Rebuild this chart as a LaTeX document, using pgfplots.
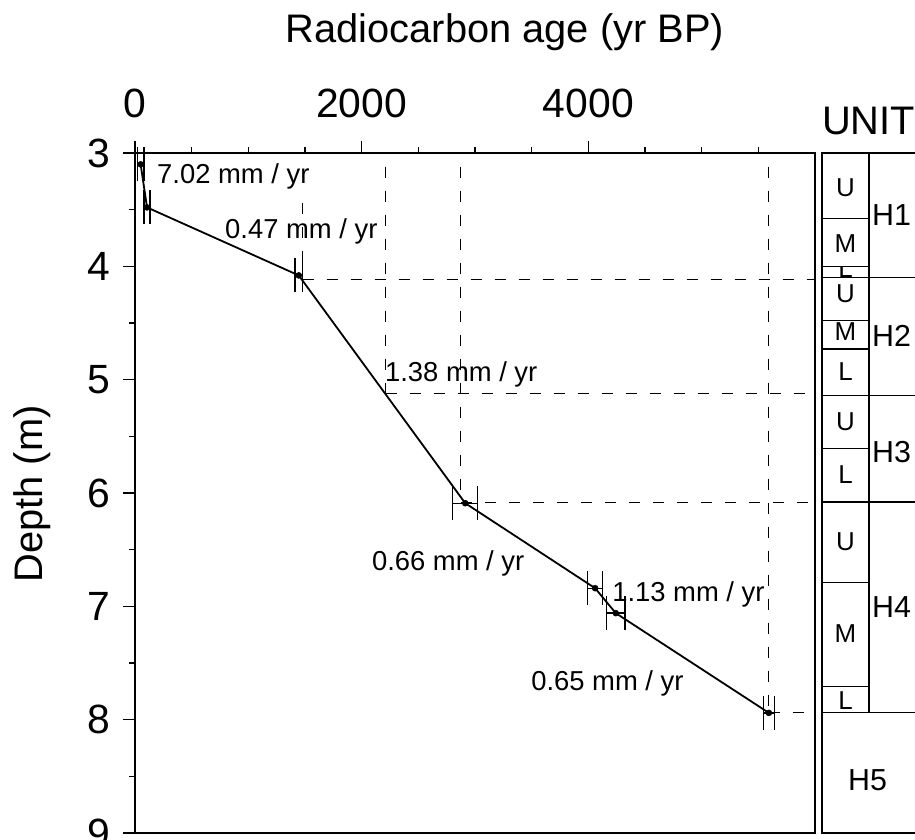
\documentclass[border=0pt]{standalone}
\usepackage{pgfplots}
\pgfplotsset{compat=1.18}
\usepackage{fontspec}
\setmainfont{Liberation Sans}
\begin{document}
\begin{tikzpicture}
\begin{axis}[
  at={(135bp,7bp)}, anchor=south west,
  scale only axis, width=680bp, height=680bp,
  xmin=0, xmax=6000, ymin=3, ymax=9, y dir=reverse,
  axis line style={line width=2bp},
  xtick pos=upper, xticklabel pos=upper, ytick pos=left,
  tick align=outside,
  major tick length=12bp, minor tick length=6bp,
  every tick/.style={line width=1.6bp, black},
  xtick={0,2000,4000}, minor xtick={500,1000,1500,2500,3000,3500,4500,5000,5500},
  ytick={3,4,5,6,7,8,9}, minor ytick={3.5,4.5,5.5,6.5,7.5,8.5},
  ticklabel style={font=\fontsize{41}{44}\selectfont},
  /pgf/number format/assume math mode=true,
  scaled x ticks=false,
  xticklabel style={/pgf/number format/1000 sep={}, yshift=20bp},
  yticklabel style={xshift=-9bp},
  clip=false,
]
% dashed guide lines
\draw[black, line width=1.1bp, dash pattern=on 11bp off 13bp] (axis cs:1480,3.44) -- (axis cs:1480,4.12);
\draw[black, line width=1.1bp, dash pattern=on 11bp off 13bp] (axis cs:2212,3.12) -- (axis cs:2212,5.12);
\draw[black, line width=1.1bp, dash pattern=on 11bp off 13bp] (axis cs:2876,3.12) -- (axis cs:2876,6.08);
\draw[black, line width=1.1bp, dash pattern=on 11bp off 13bp] (axis cs:5593,3.12) -- (axis cs:5593,7.94);
\draw[black, line width=1.1bp, dash pattern=on 11bp off 13bp] (axis cs:1480,4.12) -- (axis cs:6000,4.12);
\draw[black, line width=1.1bp, dash pattern=on 11bp off 13bp] (axis cs:2212,5.12) -- (axis cs:6000,5.12);
\draw[black, line width=1.1bp, dash pattern=on 11bp off 13bp] (axis cs:2876,6.08) -- (axis cs:6000,6.08);
\draw[black, line width=1.1bp, dash pattern=on 11bp off 13bp] (axis cs:5593,7.94) -- (axis cs:6000,7.94);
\addplot[black, line width=1.8bp, mark=*, mark size=3bp, mark options={fill=black, line width=0.5bp},
  error bars/.cd, x dir=both, x explicit,
  error bar style={line width=1.4bp, black},
  error mark=|,
  error mark options={mark size=17bp, line width=1.4bp, black}]
coordinates {
 (50,3.10) +- (30,0)
 (106,3.48) +- (27,0)
 (1445,4.08) +- (35,0)
 (2914,6.09) +- (110,0)
 (4060,6.84) +- (65,0)
 (4242,7.06) +- (80,0)
 (5593,7.94) +- (50,0)
};
\begin{scope}[every node/.style={anchor=base west, inner sep=0pt, font=\fontsize{27.5}{30}\selectfont}]
\node at (axis cs:194,3.265) {7.02 mm / yr};
\node at (axis cs:794,3.75) {0.47 mm / yr};
\node at (axis cs:2205,5.02) {1.38 mm / yr};
\node at (axis cs:2090,6.68) {0.66 mm / yr};
\node at (axis cs:4210,6.96) {1.13 mm / yr};
\node at (axis cs:3495,7.74) {0.65 mm / yr};
\end{scope}
\end{axis}
\begin{axis}[
  at={(822bp,7bp)}, anchor=south west,
  scale only axis, width=120bp, height=680bp,
  xmin=0, xmax=120, ymin=3, ymax=9, y dir=reverse,
  xtick=\empty, ytick=\empty,
  axis line style={line width=1.6bp},
  clip=false,
]
\draw[line width=1.2bp] (axis cs:47,3) -- (axis cs:47,7.94);
\draw[line width=1.2bp] (axis cs:0,4.10) -- (axis cs:120,4.10);
\draw[line width=1.2bp] (axis cs:0,5.14) -- (axis cs:120,5.14);
\draw[line width=1.2bp] (axis cs:0,6.08) -- (axis cs:120,6.08);
\draw[line width=1.2bp] (axis cs:0,7.94) -- (axis cs:120,7.94);
\draw[line width=1.2bp] (axis cs:0,3.58) -- (axis cs:47,3.58);
\draw[line width=1.2bp] (axis cs:0,4.00) -- (axis cs:47,4.00);
\draw[line width=1.2bp] (axis cs:0,4.48) -- (axis cs:47,4.48);
\draw[line width=1.2bp] (axis cs:0,4.73) -- (axis cs:47,4.73);
\draw[line width=1.2bp] (axis cs:0,5.61) -- (axis cs:47,5.61);
\draw[line width=1.2bp] (axis cs:0,6.79) -- (axis cs:47,6.79);
\draw[line width=1.2bp] (axis cs:0,7.71) -- (axis cs:47,7.71);
\begin{scope}[every node/.style={inner sep=0pt, font=\fontsize{26}{29}\selectfont}]
\node at (axis cs:23.5,3.305) {U};
\node at (axis cs:23.5,3.80) {M};
\begin{scope}
\clip (axis cs:0,4.0) rectangle (axis cs:47,4.10);
\node[anchor=base] at (axis cs:23.5,4.10) {L};
\end{scope}
\node at (axis cs:23.5,4.24) {U};
\node at (axis cs:23.5,4.58) {M};
\node at (axis cs:23.5,4.93) {L};
\node at (axis cs:23.5,5.37) {U};
\node at (axis cs:23.5,5.84) {L};
\node at (axis cs:23.5,6.43) {U};
\node at (axis cs:23.5,7.24) {M};
\node at (axis cs:23.5,7.83) {L};
\end{scope}
\begin{scope}[every node/.style={inner sep=0pt, font=\fontsize{30.5}{33}\selectfont}]
\node[anchor=west] at (axis cs:50,3.55) {H1};
\node[anchor=west] at (axis cs:50,4.61) {H2};
\node[anchor=west] at (axis cs:50,5.64) {H3};
\node[anchor=west] at (axis cs:50,7.01) {H4};
\node at (axis cs:45.5,8.53) {H5};
\end{scope}
\end{axis}
\node[anchor=base west, inner sep=0pt, font=\fontsize{40}{44}\selectfont] at (822bp,705bp) {UNIT};
\node[anchor=base, inner sep=0pt, font=\fontsize{40}{44}\selectfont] at (505bp,797bp) {Radiocarbon age (yr BP)};
\node[rotate=90, anchor=base, inner sep=0pt, font=\fontsize{40}{44}\selectfont] at (42bp,346bp) {Depth (m)};
\pgfresetboundingbox
\path[use as bounding box] (0,0) rectangle (915bp,840bp);
\end{tikzpicture}
\end{document}
